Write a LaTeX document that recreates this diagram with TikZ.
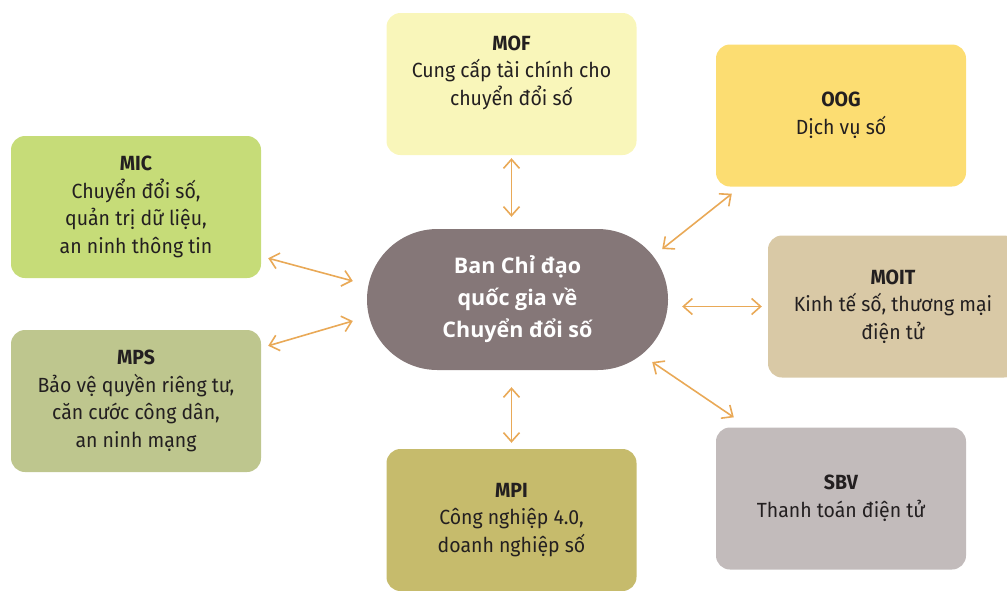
\documentclass[tikz,border=0pt]{standalone}
\usepackage{fontspec}
\setmainfont[FakeStretch=0.95]{Fira Sans}
\newfontfamily\hubfont{Open Sans}
\usepackage{tikz}
\usetikzlibrary{arrows.meta}

\definecolor{mofcol}{HTML}{F9F6BA}
\definecolor{oogcol}{HTML}{FCDD72}
\definecolor{miccol}{HTML}{C6DC78}
\definecolor{moitcol}{HTML}{D9C9A6}
\definecolor{mpscol}{HTML}{BEC68E}
\definecolor{sbvcol}{HTML}{C2BBBB}
\definecolor{mpicol}{HTML}{C6BB6C}
\definecolor{hubcol}{HTML}{857778}
\definecolor{linkcol}{HTML}{E9A957}
\definecolor{inkcol}{HTML}{231F20}

\begin{document}
\begin{tikzpicture}[x=1pt,y=-1pt,
  box/.style={rectangle,rounded corners=14pt,minimum width=250pt,minimum height=142pt,
    align=center,text=inkcol,font=\fontsize{20.5}{27.5}\selectfont},
  link/.style={<->,>={Straight Barb[length=9pt,width=16pt]},linkcol,line width=1.6pt}]
\useasboundingbox (0,0) rectangle (1007,590);
%\draw[help lines,step=50pt] (0,0) grid (1007,590);
\node[rectangle,rounded corners=70.5pt,fill=hubcol,minimum width=301pt,minimum height=141pt,
  align=center,text=white,font=\hubfont\bfseries\fontsize{21.5}{32}\selectfont] (hub) at (517.5,299.5)
  {Ban Chỉ đạo\\quốc gia về\\Chuyển đổi số};
\node[box,fill=mofcol] (mof) at (511.5,84) {\textbf{MOF}\\Cung cấp tài chính cho\\chuyển đổi số\\\mbox{}};
\node[box,fill=oogcol] (oog) at (841,115.5) {\textbf{OOG}\\Dịch vụ số};
\node[box,fill=miccol] (mic) at (136,207) {\textbf{MIC}\\Chuyển đổi số,\\quản trị dữ liệu,\\an ninh thông tin};
\node[box,fill=moitcol] (moit) at (893,306.5) {\textbf{MOIT}\\Kinh tế số, thương mại\\điện tử};
\node[box,fill=mpscol] (mps) at (136,401) {\textbf{MPS}\\Bảo vệ quyền riêng tư,\\căn cước công dân,\\an ninh mạng};
\node[box,fill=sbvcol] (sbv) at (841,498.5) {\textbf{SBV}\\Thanh toán điện tử};
\node[box,fill=mpicol] (mpi) at (511.5,520) {\textbf{MPI}\\Công nghiệp 4.0,\\doanh nghiệp số};
% connectors
\draw[link,shorten <=3pt,shorten >=12pt] (mof.south) -- (mof.south |- hub.north);
\draw[link,shorten <=6pt,shorten >=17pt] (mpi.north) -- (mpi.north |- hub.south);
\draw[link,shorten <=6pt,shorten >=14pt] (moit.west) -- (moit.west -| hub.east);
\draw[link] ([xshift=16pt,yshift=-7pt]oog.south west) -- ([xshift=-6pt,yshift=50.5pt]hub.east);
\draw[link] ([xshift=-16pt,yshift=-62.5pt]hub.east) -- ([xshift=18pt,yshift=10pt]sbv.north west);
\draw[link] ([xshift=7pt,yshift=20pt]mic.south east) -- ([xshift=-14pt,yshift=18.5pt]hub.west);
\draw[link] ([xshift=7pt,yshift=-16pt]mps.north east) -- ([xshift=-14pt,yshift=-21.5pt]hub.west);
\end{tikzpicture}
\end{document}
